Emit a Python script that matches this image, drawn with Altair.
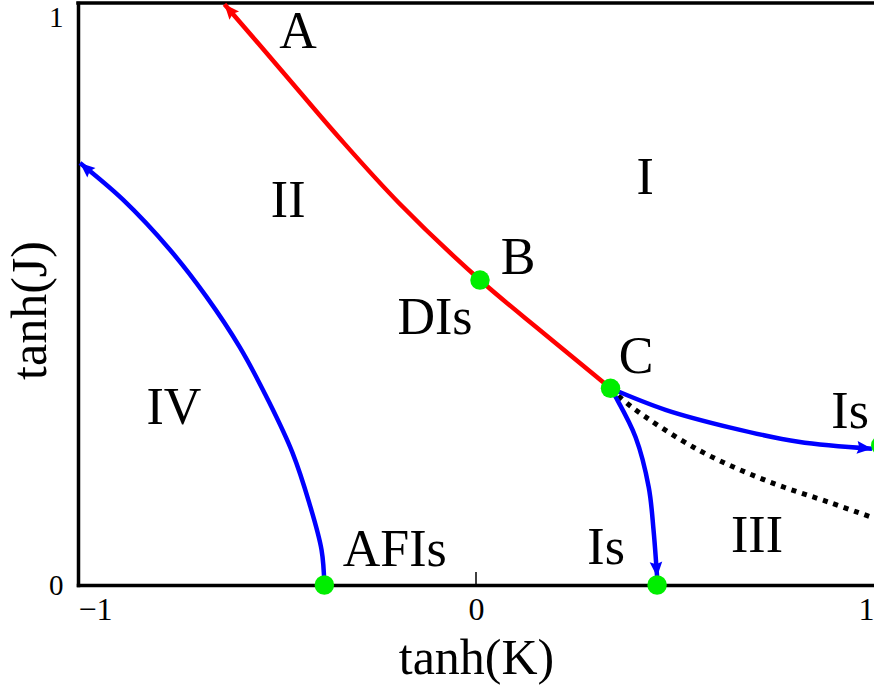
import math
import altair as alt
import pandas as pd

W, H = 796, 582
SERIF = "Liberation Serif"

# Boundaries and flows in the (tanh K, tanh J) plane
red_x = [0.338, 0.173, 0.010, -0.193, -0.343, -0.486, -0.632]
red_y = [0.338, 0.431, 0.524, 0.656, 0.768, 0.882, 0.998]

left_x = [-0.381, -0.388, -0.419, -0.461, -0.519, -0.594, -0.677, -0.769, -0.887, -0.995]
left_y = [0.0, 0.060, 0.141, 0.227, 0.313, 0.409, 0.495, 0.576, 0.662, 0.725]

right_x = [0.338, 0.476, 0.642, 0.810, 0.995]
right_y = [0.338, 0.301, 0.270, 0.246, 0.234]

down_x = [0.338, 0.351, 0.401, 0.434, 0.446, 0.455]
down_y = [0.338, 0.323, 0.254, 0.168, 0.095, 0.014]

dotted_x = [0.338, 0.391, 0.559, 0.727, 0.892, 1.0]
dotted_y = [0.338, 0.306, 0.232, 0.180, 0.141, 0.115]

# Fixed points
fp_x = [0.010, 0.338, -0.381, 0.455, 1.017]
fp_y = [0.524, 0.338, 0.0, 0.0, 0.240]

# Region and point labels
lab_text = ["A", "I", "II", "B", "DIs", "C", "IV", "Is", "III", "Is", "AFIs"]
lab_x = [-0.447, 0.425, -0.472, 0.106, -0.103, 0.402, -0.759, 0.940, 0.706, 0.327, -0.204]
lab_y = [0.950, 0.699, 0.660, 0.562, 0.459, 0.392, 0.304, 0.297, 0.084, 0.064, 0.060]

RED, BLUE, GREEN = "#ff0000", "#0000ff", "#00ee00"
ARROW = "M0,0 L0.42,1 L0,0.85 L-0.42,1 Z"


def path_frame(xs, ys):
    return pd.DataFrame({"x": xs, "y": ys, "i": list(range(len(xs)))})


def head(xs, ys, color):
    dx = (xs[-1] - xs[-2]) * W / 2
    dy = (ys[-1] - ys[-2]) * H
    ang = math.degrees(math.atan2(dx, dy)) % 360
    return {"x": xs[-1], "y": ys[-1], "ang": ang, "color": color}


x_enc = alt.X(
    "x:Q",
    scale=alt.Scale(domain=[-1, 1], nice=False, zero=False),
    axis=alt.Axis(
        values=[-1, 0, 1], labelExpr="format(datum.value, 'd')", title="tanh(K)",
        ticks=False, grid=False,
        labelFlush=True, labelOverlap=False, labelPadding=9, labelFont=SERIF, labelFontSize=32,
        labelColor="black", domainColor="black", domainWidth=3.5, domainCap="square",
        titleFont=SERIF, titleFontSize=50, titleFontWeight="normal", titleColor="black",
        titleX=W / 2, titleY=88, titleAlign="center", titleBaseline="alphabetic",
    ),
)
y_enc = alt.Y(
    "y:Q",
    scale=alt.Scale(domain=[0, 1], nice=False, zero=False),
    axis=alt.Axis(
        values=[0, 1], labelExpr="format(datum.value, 'd')", title="tanh(J)",
        ticks=False, grid=False,
        labelOverlap=False, labelPadding=15, labelFont=SERIF, labelFontSize=29, labelColor="black",
        labelBaseline={"condition": {"test": "datum.value == 1", "value": "top"}, "value": "middle"},
        domainColor="black", domainWidth=3.5, domainCap="square",
        titleFont=SERIF, titleFontSize=50, titleFontWeight="normal", titleColor="black",
        titleAngle=270, titleX=-33, titleY=307, titleAlign="center", titleBaseline="alphabetic",
    ),
)


def curve(xs, ys, color, dash=False):
    kw = dict(color=color, strokeWidth=4.5, interpolate="catmull-rom", strokeCap="butt")
    if dash:
        kw["strokeDash"] = [5, 6]
        kw["strokeWidth"] = 5
    return alt.Chart(path_frame(xs, ys)).mark_line(**kw).encode(
        x=x_enc, y=y_enc, order="i:Q"
    )


heads = pd.DataFrame([
    head(red_x, red_y, RED),
    head(left_x, left_y, BLUE),
    head(right_x, right_y, BLUE),
    head(down_x, down_y, BLUE),
])

arrow_layer = alt.Chart(heads).mark_point(
    shape=ARROW, size=900, filled=True, opacity=1, strokeWidth=0
).encode(
    x=x_enc, y=y_enc,
    angle=alt.Angle("ang:Q", scale=None),
    color=alt.Color("color:N", scale=None),
)

points_layer = alt.Chart(pd.DataFrame({"x": fp_x, "y": fp_y})).mark_circle(
    size=380, color=GREEN, opacity=1
).encode(x=x_enc, y=y_enc)

text_layer = alt.Chart(pd.DataFrame({"x": lab_x, "y": lab_y, "label": lab_text})).mark_text(
    font=SERIF, fontSize=52, color="black", align="center", baseline="middle"
).encode(x=x_enc, y=y_enc, text="label:N")

# small inward tick at tanh(K) = 0
tick_layer = alt.Chart(pd.DataFrame({"x": [0]})).mark_rule(
    color="black", strokeWidth=1.5
).encode(x=x_enc, y=alt.value(H), y2=alt.value(H - 13))

# upper frame line
top_layer = alt.Chart(pd.DataFrame({"x": [0]})).mark_rule(
    color="black", strokeWidth=3.5, strokeCap="square"
).encode(x=alt.value(0), x2=alt.value(W), y=alt.value(0))

chart = alt.layer(
    top_layer,
    tick_layer,
    curve(dotted_x, dotted_y, "black", dash=True),
    curve(red_x, red_y, RED),
    curve(left_x, left_y, BLUE),
    curve(right_x, right_y, BLUE),
    curve(down_x, down_y, BLUE),
    arrow_layer,
    points_layer,
    text_layer,
).properties(
    width=W,
    height=H,
    padding={"left": 78, "top": 3, "right": 0, "bottom": 105},
    autosize=alt.AutoSizeParams(type="none"),
    background="white",
).configure_view(strokeOpacity=0)

chart.save("out.html", embed_options={"renderer": "svg", "actions": False})
